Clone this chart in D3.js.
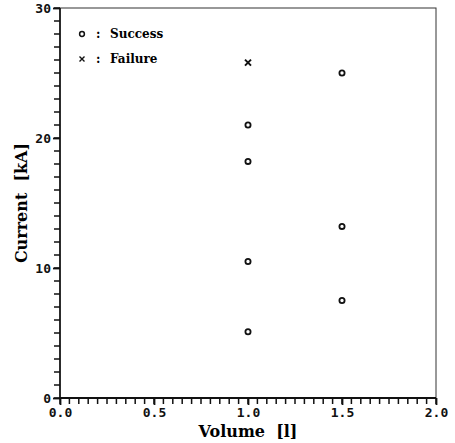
<!DOCTYPE html>
<html>
<head>
<meta charset="utf-8">
<script src="https://cdn.jsdelivr.net/npm/d3@7"></script>
<style>
body { margin: 0; background: #fff; }
svg { display: block; }
</style>
</head>
<body>
<svg width="455" height="443"></svg>
<script>
// data
const successVol = [1.0, 1.0, 1.0, 1.0, 1.5, 1.5, 1.5];
const successCur = [21.0, 18.2, 10.5, 5.1, 25.0, 13.2, 7.5];
const failureVol = [1.0];
const failureCur = [25.8];
const xTicks = [0.0, 0.5, 1.0, 1.5, 2.0];
const yTicks = [0, 10, 20, 30];

const svg = d3.select("svg");
const margin = { top: 8, right: 19, bottom: 45, left: 60 };
const width = 455 - margin.left - margin.right;
const height = 443 - margin.top - margin.bottom;

const g = svg.append("g")
  .attr("transform", "translate(" + margin.left + "," + margin.top + ")");

const x = d3.scaleLinear().domain([0, 2]).range([0, width]);
const y = d3.scaleLinear().domain([0, 30]).range([height, 0]);

const tickFont = "'DejaVu Sans Mono', monospace";
const ink = "#111";

// frame
g.append("rect")
  .attr("width", width)
  .attr("height", height)
  .attr("fill", "none")
  .attr("stroke", "#333")
  .attr("stroke-width", 1);

// minor ticks: x every 0.05, y every 1
const xMinor = d3.range(0, 2.0001, 0.05);
const yMinor = d3.range(0, 30.001, 1);

g.append("g").selectAll("line")
  .data(xMinor)
  .enter().append("line")
  .attr("x1", d => x(d)).attr("x2", d => x(d))
  .attr("y1", height).attr("y2", height + 6)
  .attr("stroke", ink).attr("stroke-width", 1.5);

g.append("g").selectAll("line")
  .data(yMinor)
  .enter().append("line")
  .attr("x1", -6).attr("x2", 0)
  .attr("y1", d => y(d)).attr("y2", d => y(d))
  .attr("stroke", ink).attr("stroke-width", 1.5);

// axis lines
g.append("line")
  .attr("x1", 0).attr("x2", width)
  .attr("y1", height).attr("y2", height)
  .attr("stroke", ink).attr("stroke-width", 2);
g.append("line")
  .attr("x1", 0).attr("x2", 0)
  .attr("y1", 0).attr("y2", height)
  .attr("stroke", ink).attr("stroke-width", 1.6);

// major labels through the axes
g.append("g")
  .attr("transform", "translate(0," + height + ")")
  .call(d3.axisBottom(x).tickValues(xTicks).tickSize(7).tickPadding(3).tickFormat(d3.format(".1f")))
  .call(a => a.select(".domain").remove())
  .call(a => a.selectAll(".tick line").attr("stroke", ink).attr("stroke-width", 1.8))
  .selectAll("text")
  .style("font-family", tickFont)
  .style("font-weight", "bold")
  .style("font-size", "13px")
  .attr("fill", ink);

g.append("g")
  .call(d3.axisLeft(y).tickValues(yTicks).tickSize(7).tickPadding(2))
  .call(a => a.select(".domain").remove())
  .call(a => a.selectAll(".tick line").attr("stroke", ink).attr("stroke-width", 1.8))
  .selectAll("text")
  .style("font-family", tickFont)
  .style("font-weight", "bold")
  .style("font-size", "13px")
  .attr("fill", ink);

// axis titles
svg.append("text")
  .attr("x", margin.left + x(1.0))
  .attr("y", 437)
  .attr("text-anchor", "middle")
  .style("font-family", "'DejaVu Serif', serif")
  .style("font-weight", "bold")
  .style("font-size", "16px")
  .style("white-space", "pre")
  .text("Volume  [l]");

svg.append("text")
  .attr("transform", "translate(27," + (margin.top + y(15)) + ") rotate(-90)")
  .attr("text-anchor", "middle")
  .style("font-family", "'DejaVu Serif', serif")
  .style("font-weight", "bold")
  .style("font-size", "16px")
  .style("white-space", "pre")
  .text("Current  [kA]");

// points
const success = successVol.map((v, i) => ({ v: v, c: successCur[i] }));
const failure = failureVol.map((v, i) => ({ v: v, c: failureCur[i] }));

g.selectAll("circle.ok")
  .data(success)
  .enter().append("circle")
  .attr("class", "ok")
  .attr("cx", d => x(d.v))
  .attr("cy", d => y(d.c))
  .attr("r", 2.6)
  .attr("fill", "none")
  .attr("stroke", ink)
  .attr("stroke-width", 1.8);

function crossPath(s) {
  return "M" + (-s) + "," + (-s) + "L" + s + "," + s + "M" + (-s) + "," + s + "L" + s + "," + (-s);
}
g.selectAll("path.fail")
  .data(failure)
  .enter().append("path")
  .attr("class", "fail")
  .attr("d", crossPath(3))
  .attr("transform", d => "translate(" + x(d.v) + "," + y(d.c) + ")")
  .attr("fill", "none")
  .attr("stroke", ink)
  .attr("stroke-width", 2);

// legend
const legend = g.append("g").attr("transform", "translate(20,0)");
const legFont = "'DejaVu Serif', serif";
legend.append("circle")
  .attr("cx", 2).attr("cy", 26)
  .attr("r", 2.4)
  .attr("fill", "none").attr("stroke", ink).attr("stroke-width", 1.5);
legend.append("path")
  .attr("d", crossPath(2.5))
  .attr("transform", "translate(2,51)")
  .attr("fill", "none").attr("stroke", ink).attr("stroke-width", 1.4);
legend.selectAll("text.colon")
  .data([30, 55])
  .enter().append("text")
  .attr("class", "colon")
  .attr("x", 16).attr("y", d => d)
  .style("font-family", legFont).style("font-weight", "bold").style("font-size", "12px")
  .text(":");
legend.append("text")
  .attr("x", 30).attr("y", 30)
  .style("font-family", legFont).style("font-weight", "bold").style("font-size", "12px")
  .text("Success");
legend.append("text")
  .attr("x", 30).attr("y", 55)
  .style("font-family", legFont).style("font-weight", "bold").style("font-size", "12px")
  .text("Failure");
</script>
</body>
</html>
